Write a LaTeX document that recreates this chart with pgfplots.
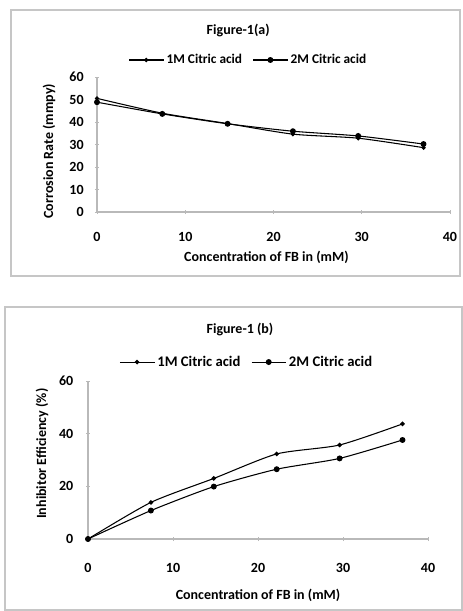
\documentclass[border=0pt]{standalone}
\usepackage{pgfplots}
\pgfplotsset{compat=1.18}
\usepackage{fontspec}
\setmainfont{Carlito}

\pgfplotsset{
  figstyle/.style={
    scale only axis, clip=false,
    xmin=0, xmax=40, ymin=0, ymax=60,
    xtick={0,10,20,30,40},
    axis lines*=left,
    axis line style={gray!55, line width=0.9pt},
    tick style={gray!55, line width=0.6pt},
    major tick length=3pt,
    tick align=center,
    /pgf/number format/assume math mode=true,
    ticklabel style={font=\fontsize{10.5}{12}\selectfont\bfseries},
    label style={font=\fontsize{10.5}{12}\selectfont\bfseries},
    legend style={draw=none, fill=none, font=\fontsize{10}{12}\selectfont\bfseries,
      anchor=center, legend columns=2,
      /tikz/every even column/.append style={column sep=6pt}},
    legend cell align=left,
    legend image code/.code={\draw[mark repeat=2,mark phase=2]
      plot coordinates {(0cm,0cm)(0.45cm,0cm)(0.9cm,0cm)};},
    every axis plot/.append style={black, line width=0.8pt, smooth, tension=0.4},
  },
}

\begin{document}
\begin{tikzpicture}
% frames
\begin{scope}[x=0.75pt, y=0.75pt]
\path[use as bounding box] (0,0) rectangle (463,611);
\draw[gray!45, line width=1.1pt] (11,601) rectangle (460,335);
\draw[gray!45, line width=1.1pt] (5,304) rectangle (462,1);
\end{scope}

% Figure-1(a)
\begin{axis}[figstyle,
  at={(72.75pt,299.25pt)}, anchor=south west,
  width=264.75pt, height=101.25pt,
  ytick={0,10,20,30,40,50,60},
  xticklabel style={yshift=-10pt},
  yticklabel style={xshift=-5pt},
  xlabel={Concentration of FB in (mM)},
  xlabel style={at={(axis description cs:0.48,0)}, anchor=center, yshift=-34pt},
  ylabel={Corrosion Rate (mmpy)},
  ylabel style={at={(axis description cs:-0.136,0.45)}, anchor=center},
  legend style={at={(0.43,1.126)}},
]
\addplot[mark=*, mark size=1.2pt] coordinates {
  (0,50.5) (7.4,43.9) (14.8,39.3) (22.2,34.6) (29.6,32.8) (37,28.6)};
\addlegendentry{1M Citric acid}
\addplot[mark=*, mark size=1.8pt] coordinates {
  (0,48.8) (7.4,43.6) (14.8,39.2) (22.2,35.9) (29.6,33.8) (37,30.2)};
\addlegendentry{2M Citric acid}
\node[font=\fontsize{10.5}{12}\selectfont\bfseries] at (axis description cs:0.40,1.348) {Figure-1(a)};
\end{axis}

% Figure-1(b)
\begin{axis}[figstyle,
  at={(66pt,54pt)}, anchor=south west,
  width=255pt, height=118.5pt,
  ytick={0,20,40,60},
  xticklabel style={yshift=-13pt},
  yticklabel style={xshift=-6pt},
  xlabel={Concentration of FB in (mM)},
  xlabel style={at={(axis description cs:0.5,0)}, anchor=center, yshift=-42pt},
  ylabel={Inhibitor Efficiency (\%)},
  ylabel style={at={(axis description cs:-0.135,0.54)}, anchor=center},
  legend style={at={(0.468,1.12)}, font=\fontsize{11}{13}\selectfont\bfseries},
]
\addplot[mark=*, mark size=1.3pt] coordinates {
  (0,0) (7.4,13.9) (14.8,23.0) (22.2,32.3) (29.6,35.7) (37,43.7)};
\addlegendentry{1M Citric acid}
\addplot[mark=*, mark size=1.8pt] coordinates {
  (0,0) (7.4,10.8) (14.8,19.9) (22.2,26.5) (29.6,30.6) (37,37.6)};
\addlegendentry{2M Citric acid}
\node[font=\fontsize{10.5}{12}\selectfont\bfseries] at (axis description cs:0.447,1.329) {Figure-1 (b)};
\end{axis}
\end{tikzpicture}
\end{document}
